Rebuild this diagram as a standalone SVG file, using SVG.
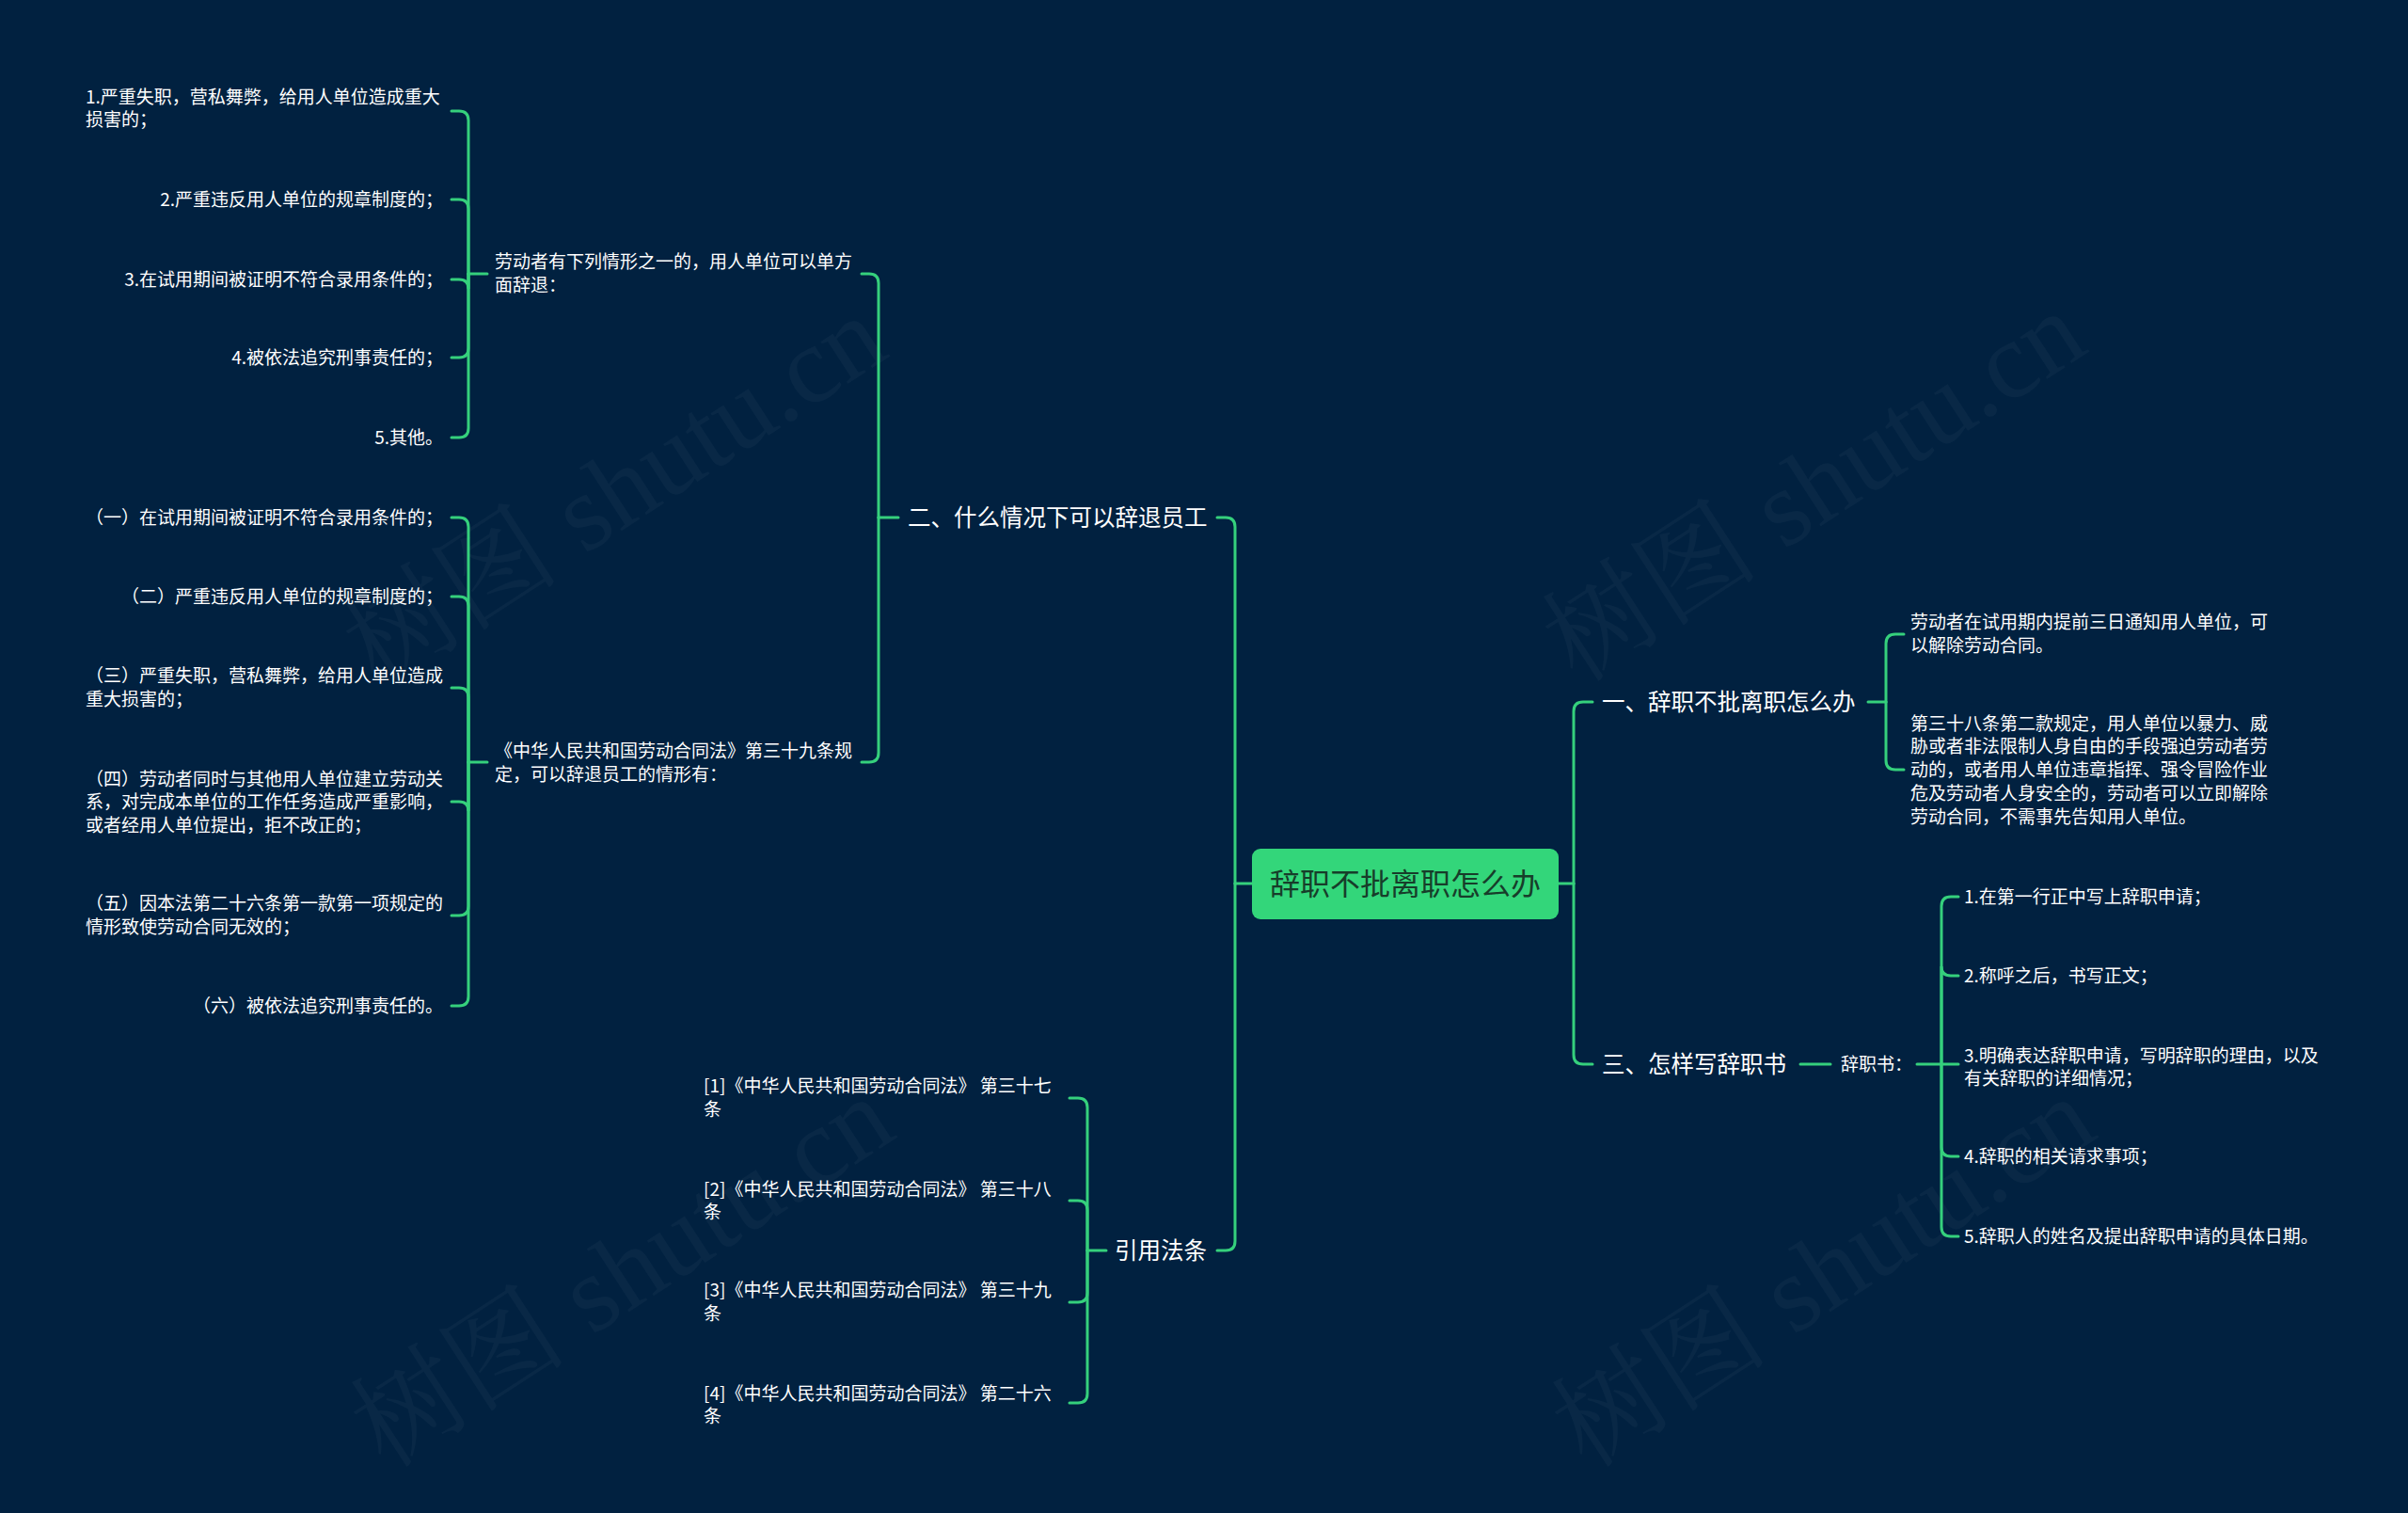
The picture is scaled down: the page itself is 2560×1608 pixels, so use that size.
<svg xmlns="http://www.w3.org/2000/svg" width="2560" height="1608" viewBox="0 0 2560 1608">
<style>
.bg{fill:#012140}
.wm{font-family:"Liberation Serif","Noto Serif CJK SC","Noto Sans CJK SC",serif;font-size:116px;fill:#ffffff;fill-opacity:0.035;text-anchor:middle}
.ln{fill:none;stroke:#35d07c;stroke-width:3;stroke-linecap:round}
.t{font-family:"Noto Sans CJK SC","Noto Sans",sans-serif;font-size:19px;fill:#ffffff}
.e{text-anchor:end}
.l1{font-family:"Noto Sans CJK SC","Noto Sans",sans-serif;font-size:24.5px;fill:#ffffff}
.root{fill:#33d67a}
.rt{font-family:"Noto Sans CJK SC","Noto Sans",sans-serif;font-size:32px;fill:#173d2a;text-anchor:middle}
</style>
<rect class="bg" x="0" y="0" width="2560" height="1608"/>
<g id="watermarks">
<text class="wm" transform="translate(675,555) rotate(-33)">树图 shutu.cn</text>
<text class="wm" transform="translate(1950,550) rotate(-33)">树图 shutu.cn</text>
<text class="wm" transform="translate(683,1385) rotate(-33)">树图 shutu.cn</text>
<text class="wm" transform="translate(1960,1385) rotate(-33)">树图 shutu.cn</text>
</g>
<g id="connectors">
<path class="ln" d="M1657 939 H1673"/>
<path class="ln" d="M1673 939 V756 Q1673 746 1683 746 H1693"/>
<path class="ln" d="M1673 939 V1121 Q1673 1131 1683 1131 H1693"/>
<path class="ln" d="M1986 746 H2005"/>
<path class="ln" d="M2005 746 V684 Q2005 674 2015 674 H2024"/>
<path class="ln" d="M2005 746 V808 Q2005 818 2015 818 H2024"/>
<path class="ln" d="M1914 1131 H1946"/>
<path class="ln" d="M2038 1131 H2064"/>
<path class="ln" d="M2064 1131 V963 Q2064 953 2074 953 H2082"/>
<path class="ln" d="M2064 1131 V1027 Q2064 1037 2074 1037 H2082"/>
<path class="ln" d="M2064 1131 H2082"/>
<path class="ln" d="M2064 1131 V1219 Q2064 1229 2074 1229 H2082"/>
<path class="ln" d="M2064 1131 V1304 Q2064 1314 2074 1314 H2082"/>
<path class="ln" d="M1331 939 H1313"/>
<path class="ln" d="M1313 939 V560 Q1313 550 1303 550 H1294"/>
<path class="ln" d="M1313 939 V1319 Q1313 1329 1303 1329 H1294"/>
<path class="ln" d="M955 550 H934"/>
<path class="ln" d="M934 550 V301 Q934 291 924 291 H916"/>
<path class="ln" d="M934 550 V800 Q934 810 924 810 H916"/>
<path class="ln" d="M518 291 H498"/>
<path class="ln" d="M498 291 V128 Q498 118 488 118 H480"/>
<path class="ln" d="M498 291 V222 Q498 212 488 212 H480"/>
<path class="ln" d="M498 291 V307 Q498 297 488 297 H480"/>
<path class="ln" d="M498 291 V370 Q498 380 488 380 H480"/>
<path class="ln" d="M498 291 V455 Q498 465 488 465 H480"/>
<path class="ln" d="M518 810 H498"/>
<path class="ln" d="M498 810 V560 Q498 550 488 550 H480"/>
<path class="ln" d="M498 810 V644 Q498 634 488 634 H480"/>
<path class="ln" d="M498 810 V741 Q498 731 488 731 H480"/>
<path class="ln" d="M498 810 V862 Q498 852 488 852 H480"/>
<path class="ln" d="M498 810 V963 Q498 973 488 973 H480"/>
<path class="ln" d="M498 810 V1059 Q498 1069 488 1069 H480"/>
<path class="ln" d="M1176 1329 H1156"/>
<path class="ln" d="M1156 1329 V1177 Q1156 1167 1146 1167 H1137"/>
<path class="ln" d="M1156 1329 V1286 Q1156 1276 1146 1276 H1137"/>
<path class="ln" d="M1156 1329 V1374 Q1156 1384 1146 1384 H1137"/>
<path class="ln" d="M1156 1329 V1481 Q1156 1491 1146 1491 H1137"/>
</g>
<g id="root">
<rect class="root" x="1331" y="902" width="326" height="75" rx="9"/>
<text class="rt" x="1494" y="951">辞职不批离职怎么办</text>
</g>
<g id="n-yi"><text class="l1" x="1703" y="755">一、辞职不批离职怎么办</text></g>
<g id="n-yi-1"><text class="t"><tspan x="2031" y="668">劳动者在试用期内提前三日通知用人单位，可</tspan><tspan x="2031" y="693">以解除劳动合同。</tspan></text></g>
<g id="n-yi-2"><text class="t"><tspan x="2031" y="776">第三十八条第二款规定，用人单位以暴力、威</tspan><tspan x="2031" y="800">胁或者非法限制人身自由的手段强迫劳动者劳</tspan><tspan x="2031" y="825">动的，或者用人单位违章指挥、强令冒险作业</tspan><tspan x="2031" y="850">危及劳动者人身安全的，劳动者可以立即解除</tspan><tspan x="2031" y="875">劳动合同，不需事先告知用人单位。</tspan></text></g>
<g id="n-san"><text class="l1" x="1703" y="1140">三、怎样写辞职书</text></g>
<g id="n-cizhishu"><text class="t" x="1957" y="1138">辞职书：</text></g>
<g id="n-czs-1"><text class="t" x="2088" y="960">1.在第一行正中写上辞职申请；</text></g>
<g id="n-czs-2"><text class="t" x="2088" y="1044">2.称呼之后，书写正文；</text></g>
<g id="n-czs-3"><text class="t"><tspan x="2088" y="1129">3.明确表达辞职申请，写明辞职的理由，以及</tspan><tspan x="2088" y="1153">有关辞职的详细情况；</tspan></text></g>
<g id="n-czs-4"><text class="t" x="2088" y="1236">4.辞职的相关请求事项；</text></g>
<g id="n-czs-5"><text class="t" x="2088" y="1321">5.辞职人的姓名及提出辞职申请的具体日期。</text></g>
<g id="n-er"><text class="l1" x="965" y="559">二、什么情况下可以辞退员工</text></g>
<g id="n-er-1"><text class="t"><tspan x="526" y="285">劳动者有下列情形之一的，用人单位可以单方</tspan><tspan x="526" y="310">面辞退：</tspan></text></g>
<g id="n-er-1-1"><text class="t"><tspan x="91" y="110">1.严重失职，营私舞弊，给用人单位造成重大</tspan><tspan x="91" y="134">损害的；</tspan></text></g>
<g id="n-er-1-2"><text class="t e" x="471" y="219">2.严重违反用人单位的规章制度的；</text></g>
<g id="n-er-1-3"><text class="t e" x="471" y="304">3.在试用期间被证明不符合录用条件的；</text></g>
<g id="n-er-1-4"><text class="t e" x="471" y="387">4.被依法追究刑事责任的；</text></g>
<g id="n-er-1-5"><text class="t e" x="471" y="472">5.其他。</text></g>
<g id="n-er-2"><text class="t"><tspan x="526" y="805">《中华人民共和国劳动合同法》第三十九条规</tspan><tspan x="526" y="830">定，可以辞退员工的情形有：</tspan></text></g>
<g id="n-er-2-1"><text class="t e" x="471" y="557">（一）在试用期间被证明不符合录用条件的；</text></g>
<g id="n-er-2-2"><text class="t e" x="471" y="641">（二）严重违反用人单位的规章制度的；</text></g>
<g id="n-er-2-3"><text class="t"><tspan x="91" y="725">（三）严重失职，营私舞弊，给用人单位造成</tspan><tspan x="91" y="750">重大损害的；</tspan></text></g>
<g id="n-er-2-4"><text class="t"><tspan x="91" y="835">（四）劳动者同时与其他用人单位建立劳动关</tspan><tspan x="91" y="859">系，对完成本单位的工作任务造成严重影响，</tspan><tspan x="91" y="884">或者经用人单位提出，拒不改正的；</tspan></text></g>
<g id="n-er-2-5"><text class="t"><tspan x="91" y="967">（五）因本法第二十六条第一款第一项规定的</tspan><tspan x="91" y="992">情形致使劳动合同无效的；</tspan></text></g>
<g id="n-er-2-6"><text class="t e" x="471" y="1076">（六）被依法追究刑事责任的。</text></g>
<g id="n-yinyong"><text class="l1" x="1185" y="1338">引用法条</text></g>
<g id="n-yy-1"><text class="t"><tspan x="748" y="1161">[1]《中华人民共和国劳动合同法》 第三十七</tspan><tspan x="748" y="1186">条</tspan></text></g>
<g id="n-yy-2"><text class="t"><tspan x="748" y="1271">[2]《中华人民共和国劳动合同法》 第三十八</tspan><tspan x="748" y="1295">条</tspan></text></g>
<g id="n-yy-3"><text class="t"><tspan x="748" y="1378">[3]《中华人民共和国劳动合同法》 第三十九</tspan><tspan x="748" y="1403">条</tspan></text></g>
<g id="n-yy-4"><text class="t"><tspan x="748" y="1488">[4]《中华人民共和国劳动合同法》 第二十六</tspan><tspan x="748" y="1512">条</tspan></text></g>
</svg>
